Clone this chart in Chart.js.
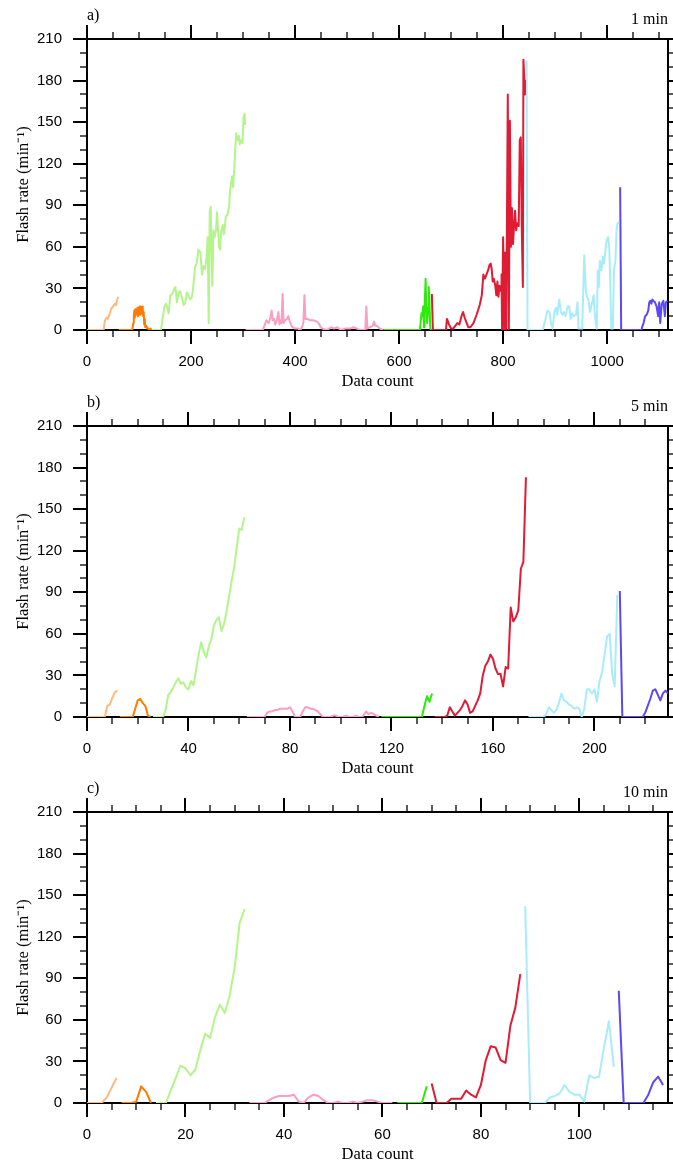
<!DOCTYPE html>
<html lang="en">
<head>
<meta charset="UTF-8">
<title>Flash rate vs data count</title>
<style>
  html, body { margin: 0; padding: 0; background: #fff; }
  #wrap { position: relative; width: 673px; height: 1165px; }
  .panel { position: absolute; left: 0; width: 673px; height: 390px; }
  .panel canvas { position: absolute; left: 0; top: 0; }
  .tag { position: absolute; font-family: 'Liberation Serif', 'Times New Roman', serif; font-size: 16px; line-height: 16px; color: #000; white-space: nowrap; }
  .tag.left { left: 87px; top: 7px; }
  .tag.right { right: 5px; top: 11px; }
</style>
</head>
<body>
<div id="wrap"></div>

<script src="https://cdn.jsdelivr.net/npm/chart.js"></script>
<script>
// panel texts
const panelTags = ['a)', 'b)', 'c)'];
const panelSteps = ['1 min', '5 min', '10 min'];

// axis ranges / tick spacing per panel
const xMax = [1117, 229, 118];
const xMajor = [200, 40, 20];
const xMinor = [50, 10, 5];
const yMax = 210, yMajor = 30, yMinor = 10;

const cellColors = ['#FDBA7E', '#FF7B00', '#B3F58A', '#FC9DC2', '#2EEA0A', '#E01B34', '#A8ECFB', '#5B48F7'];

// 1 min: [data count, flash rate] per cell
const a1 = [[0,0],[32,0],[34,6],[36,8],[38,9],[40,8],[42,10],[44,12],[46,15],[48,16],[50,17],[52,18],[54,19],[56,18],[58,22],[60,24]];
const a2 = [[61,0],[87,0],[89,5],[90,10],[91,14],[92,9],[93,15],[94,11],[95,14],[96,12],[97,16],[98,10],[99,15],[100,13],[101,17],[102,11],[103,17],[104,12],[105,16],[106,13],[107,17],[108,10],[109,13],[110,4],[111,8],[112,2],[114,3],[116,1],[118,1],[120,0],[122,1],[124,0]];
const a3 = [[125,0],[142,0],[146,10],[149,17],[152,19],[155,15],[157,12],[160,25],[164,26],[168,30],[170,31],[173,20],[176,27],[179,28],[182,24],[186,18],[189,20],[192,27],[195,25],[198,22],[202,24],[205,34],[208,46],[211,48],[214,58],[218,56],[221,40],[224,46],[227,44],[230,53],[232,67],[234,5],[236,86],[238,89],[239,60],[241,32],[243,72],[245,67],[248,72],[250,85],[252,72],[254,60],[256,58],[258,71],[261,76],[263,69],[265,75],[267,82],[270,83],[273,89],[275,100],[277,106],[279,111],[281,103],[283,116],[285,130],[287,142],[289,137],[292,140],[294,134],[296,137],[299,135],[301,154],[303,156],[304,148]];
const a4 = [[305,0],[338,0],[342,4],[345,7],[349,5],[352,8],[355,14],[357,7],[360,8],[362,4],[365,7],[368,13],[370,4],[372,7],[374,5],[376,26],[378,5],[381,7],[384,8],[387,10],[389,7],[392,4],[395,2],[400,1],[406,1],[410,0],[413,2],[416,5],[418,25],[420,8],[424,8],[429,7],[435,7],[442,6],[447,4],[449,2],[453,1],[461,0],[470,2],[475,1],[481,2],[488,0],[496,1],[506,1],[512,2],[519,1],[525,0],[535,0],[537,17],[539,1],[544,2],[549,3],[552,6],[554,3],[558,3],[563,1],[569,0]];
const a5 = [[570,0],[640,0],[642,8],[643,12],[645,10],[646,17],[648,2],[649,16],[651,37],[652,20],[654,5],[656,16],[657,31],[658,24],[660,1],[662,0]];
const a6 = [[663,26],[665,0],[690,0],[692,8],[696,4],[700,1],[704,1],[708,3],[712,5],[716,4],[720,10],[723,13],[726,9],[730,5],[733,2],[737,2],[743,5],[749,11],[755,18],[759,25],[762,40],[765,37],[768,40],[771,43],[774,47],[776,48],[778,44],[780,35],[782,37],[785,32],[787,25],[789,35],[791,24],[793,32],[796,28],[797,40],[798,0],[800,67],[802,0],[804,56],[806,0],[809,170],[811,0],[813,151],[815,60],[817,88],[819,62],[821,75],[823,86],[825,72],[827,77],[830,75],[832,137],[834,139],[836,70],[838,31],[839,195],[841,180],[842,170]];
const a7 = [[843,194],[845,194],[847,0],[876,0],[881,7],[885,14],[889,13],[892,5],[895,1],[899,14],[902,16],[904,11],[908,22],[911,13],[914,11],[917,13],[920,10],[924,17],[927,17],[930,8],[933,12],[936,10],[940,11],[943,20],[945,1],[952,1],[956,54],[959,29],[961,24],[964,22],[967,13],[970,18],[974,25],[976,13],[978,5],[980,1],[982,43],[984,31],[986,50],[989,43],[992,53],[994,48],[997,58],[999,65],[1002,67],[1004,60],[1006,34],[1008,1],[1011,1],[1013,43],[1016,50],[1018,72],[1020,77],[1023,78]];
const a8 = [[1025,103],[1027,0],[1066,0],[1068,3],[1070,5],[1073,10],[1076,11],[1079,14],[1081,20],[1083,21],[1085,19],[1087,22],[1089,21],[1092,20],[1095,17],[1098,10],[1100,20],[1102,5],[1105,19],[1108,21],[1111,10],[1113,20],[1116,21]];

// 5 min: first data count of each cell, then one value per count
const bStart = [0, 13, 26, 63, 116, 137, 174, 210];
const b1 = [0,0,0,0,0,0,0,0,8,9,14,18,19];
const b2 = [0,0,0,0,0,0,6,12,13,10,8,1,0];
const b3 = [0,0,0,0,0,5,16,18,21,25,28,24,25,21,20,26,23,34,45,54,47,43,51,56,66,70,72,62,67,76,87,98,108,122,136,135,144];
const b4 = [0,0,0,0,0,0,0,0,3,4,4,5,5,6,6,6,6,7,4,0,0,0,4,7,7,6,6,5,4,2,0,0,0,0,1,1,0,0,0,1,0,0,0,1,0,0,1,4,2,3,2,1,0];
const b5 = [0,0,0,0,0,0,0,0,0,0,0,0,0,0,0,0,0,8,15,11,17];
const b6 = [0,0,0,0,0,1,7,4,1,3,5,8,12,9,3,4,8,12,17,30,37,40,45,42,35,31,31,22,36,35,79,69,72,77,107,112,173];
const b7 = [0,0,0,0,0,0,0,2,7,5,3,5,10,17,12,11,9,8,6,7,6,0,6,20,20,17,20,11,26,32,45,58,60,31,22,88];
const b8 = [91,0,0,0,0,0,0,0,0,0,3,8,13,19,20,16,12,17,19,17];

// 10 min
const cStart = [0, 7, 14, 33, 63, 70, 89, 108];
const c1 = [0,0,0,0,4,11,18];
const c2 = [0,0,0,1,12,8,0];
const c3 = [0,0,0,9,18,27,25,20,24,38,50,47,62,71,65,78,98,130,140];
const c4 = [0,0,0,0,2,4,5,5,5,6,1,0,4,6,5,2,0,0,1,0,0,1,0,1,2,2,1,0,0,0];
const c5 = [0,0,0,0,0,0,12];
const c6 = [14,0,0,0,3,3,3,9,6,4,13,31,41,40,31,29,56,69,93];
const c7 = [142,0,0,0,0,4,5,7,13,8,6,6,1,20,18,19,40,59,26];
const c8 = [81,0,0,0,0,0,6,15,19,13];

const pairs = list => list.map(p => ({ x: p[0], y: p[1] }));
const seq = (start, vals) => vals.map((v, i) => ({ x: start + i, y: v }));

const panelData = [
  [a1, a2, a3, a4, a5, a6, a7, a8].map(pairs),
  [b1, b2, b3, b4, b5, b6, b7, b8].map((v, i) => seq(bStart[i], v)),
  [c1, c2, c3, c4, c5, c6, c7, c8].map((v, i) => seq(cStart[i], v))
];
const panelTops = [0, 387, 773];

const SANS = "'Liberation Sans', Arial, sans-serif";
const SERIF = "'Liberation Serif', 'Times New Roman', serif";

// tick marks on all four sides, major long / minor short, pointing outward
const tickMarks = {
  id: 'tickMarks',
  afterDraw(chart, args, opts) {
    const { ctx, chartArea: ca, scales } = chart;
    const x = scales.x, y = scales.y;
    ctx.save();
    ctx.strokeStyle = '#000';
    const seg = (x1, y1, x2, y2, w) => {
      ctx.lineWidth = w;
      ctx.beginPath(); ctx.moveTo(x1, y1); ctx.lineTo(x2, y2); ctx.stroke();
    };
    const nx = Math.floor(opts.xMax / opts.xMinor);
    for (let i = 0; i <= nx; i++) {
      const v = i * opts.xMinor;
      const major = v % opts.xMajor === 0;
      const len = major ? 14 : 7, w = major ? 2 : 1.3;
      const px = Math.round(x.getPixelForValue(v));
      seg(px, ca.bottom, px, ca.bottom + len, w);
      seg(px, ca.top, px, ca.top - len, w);
    }
    const ny = Math.floor(opts.yMax / opts.yMinor);
    for (let i = 0; i <= ny; i++) {
      const v = i * opts.yMinor;
      const major = v % opts.yMajor === 0;
      const len = major ? 14 : 7, w = major ? 2 : 1.3;
      const py = Math.round(y.getPixelForValue(v));
      seg(ca.left, py, ca.left - len, py, w);
      seg(ca.right, py, ca.right + len, py, w);
    }
    ctx.restore();
  }
};

const wrap = document.getElementById('wrap');

panelData.forEach((cells, p) => {
  const box = document.createElement('div');
  box.className = 'panel';
  box.style.top = panelTops[p] + 'px';
  const canvas = document.createElement('canvas');
  canvas.width = 673;
  canvas.height = 390;
  box.appendChild(canvas);
  const tagL = document.createElement('span');
  tagL.className = 'tag left';
  tagL.textContent = panelTags[p];
  const tagR = document.createElement('span');
  tagR.className = 'tag right';
  tagR.textContent = panelSteps[p];
  box.appendChild(tagL);
  box.appendChild(tagR);
  wrap.appendChild(box);

  const border = { display: true, color: '#000', width: 2 };
  const noGrid = { display: false, drawTicks: false };

  new Chart(canvas.getContext('2d'), {
    type: 'line',
    data: {
      datasets: cells.map((pts, i) => ({
        data: pts,
        borderColor: cellColors[i],
        borderWidth: 2,
        borderJoinStyle: 'round',
        pointRadius: 0,
        fill: false,
        tension: 0
      }))
    },
    options: {
      responsive: false,
      animation: false,
      devicePixelRatio: 1,
      events: [],
      layout: { padding: 0 },
      plugins: {
        legend: { display: false },
        tooltip: { enabled: false },
        tickMarks: { xMax: xMax[p], xMajor: xMajor[p], xMinor: xMinor[p], yMax: yMax, yMajor: yMajor, yMinor: yMinor }
      },
      scales: {
        x: {
          type: 'linear', position: 'bottom', min: 0, max: xMax[p], z: 1,
          border: border, grid: noGrid,
          ticks: {
            stepSize: xMajor[p], includeBounds: false, padding: 23, color: '#000',
            maxRotation: 0, autoSkip: false,
            font: { family: SANS, size: 15 },
            callback: v => String(v)
          },
          title: {
            display: true, text: 'Data count', color: '#000',
            font: { family: SERIF, size: 16.5, lineHeight: 1 },
            padding: { top: 0, bottom: 0 }
          },
          afterFit: s => { s.height = 60; }
        },
        xt: {
          type: 'linear', position: 'top', min: 0, max: xMax[p], z: 1,
          border: border, grid: noGrid,
          ticks: { display: false },
          afterFit: s => { s.height = 39; }
        },
        y: {
          type: 'linear', position: 'left', min: 0, max: yMax, z: 1,
          border: border, grid: noGrid,
          ticks: {
            stepSize: yMajor, includeBounds: false, padding: 25, color: '#000',
            font: { family: SANS, size: 15 },
            callback: v => String(v)
          },
          title: {
            display: true, text: 'Flash rate (min\u207B\u00B9)', color: '#000',
            font: { family: SERIF, size: 16.5, lineHeight: 1 },
            padding: { top: 15, bottom: 0 }
          },
          afterFit: s => { s.width = 87; }
        },
        yr: {
          type: 'linear', position: 'right', min: 0, max: yMax, z: 1,
          border: border, grid: noGrid,
          ticks: { display: false },
          afterFit: s => { s.width = 5; }
        }
      }
    },
    plugins: [tickMarks]
  });
});
</script>
</body>
</html>
